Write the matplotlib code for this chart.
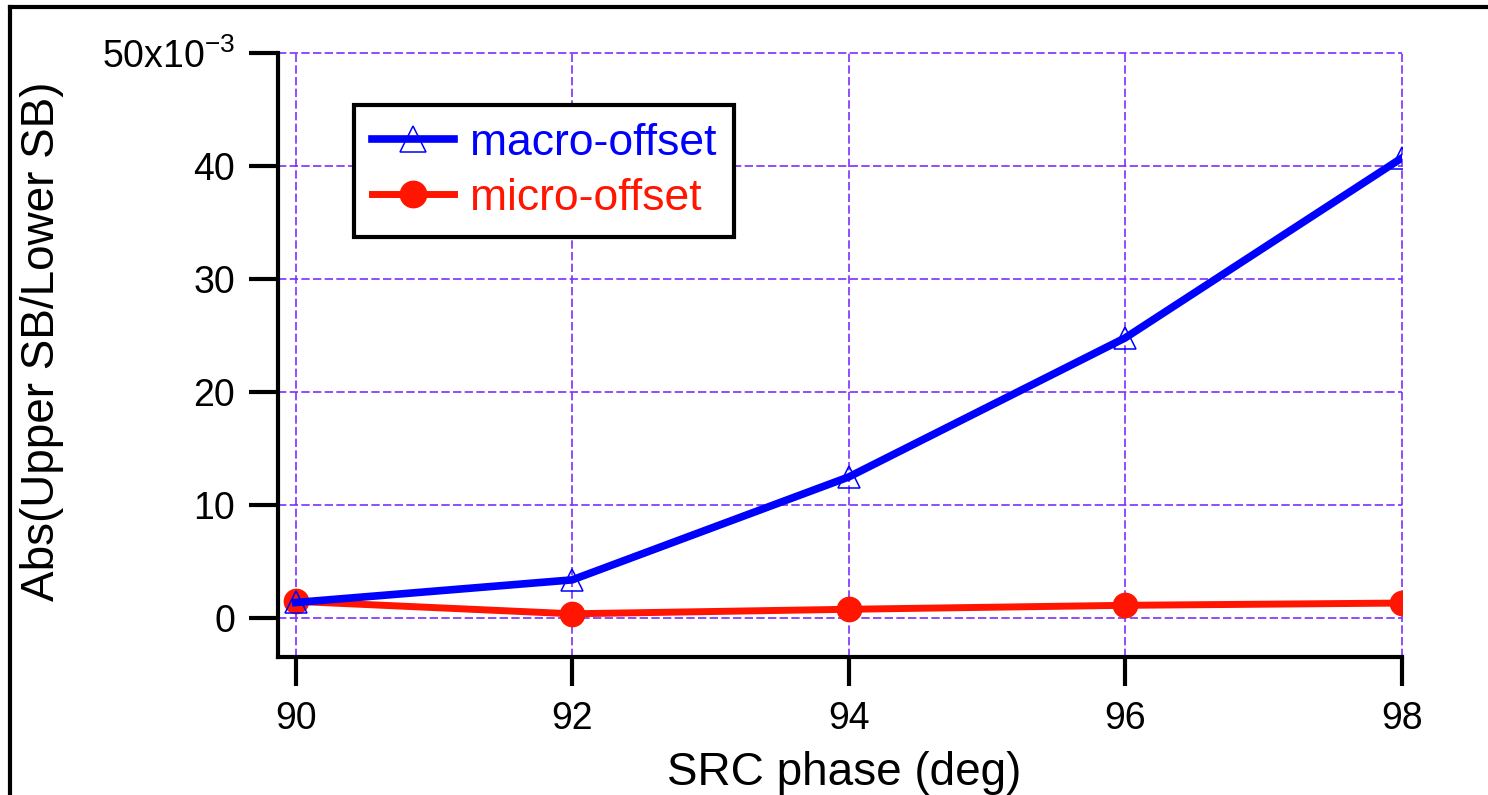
import matplotlib
matplotlib.use('Agg')
import matplotlib.pyplot as plt
from matplotlib.lines import Line2D

plt.rcParams['font.family'] = ['Liberation Sans', 'DejaVu Sans']
plt.rcParams['mathtext.fontset'] = 'custom'
plt.rcParams['mathtext.rm'] = 'Liberation Sans'
plt.rcParams['mathtext.default'] = 'regular'

# data (values in units of 1e-3)
phase = [90, 92, 94, 96, 98]
macro_offset = [1.4, 3.4, 12.5, 24.8, 40.7]
micro_offset = [1.5, 0.4, 0.8, 1.15, 1.35]

yticks = [0, 10, 20, 30, 40, 50]
ytick_labels = ['0', '10', '20', '30', '40', '50x10$^{-3}$']
xticks = [90, 92, 94, 96, 98]

grid_color = '#7b2fff'
blue = '#0000ff'
red = '#ff1500'

W, H = 1488, 795
fig = plt.figure(figsize=(W / 100, H / 100), dpi=100)
ax = fig.add_axes([278 / W, 1 - 657 / H, (1401.7 - 278) / W, (657 - 52.9) / H])

# red first so the blue trace sits on top
ax.plot(phase, micro_offset, color=red, lw=5, marker='o', ms=17.5,
        mfc=red, mec=red, label='micro-offset', zorder=3)
ax.plot(phase, macro_offset, color=blue, lw=5.5, marker='^', ms=16,
        mfc='none', mec=blue, mew=1.1, label='macro-offset', zorder=4)

ax.set_xlim(89.872, 98)
ax.set_ylim(-3.42, 50)
ax.set_xticks(xticks)
ax.set_yticks(yticks)
ax.set_yticklabels(ytick_labels)

ax.grid(True, color=grid_color, lw=1.2, linestyle=(0, (5, 2)), zorder=1)
for gl in ax.get_xgridlines() + ax.get_ygridlines():
    gl.set_clip_on(False)
for s in ['top', 'right']:
    ax.spines[s].set_visible(False)
for s in ['left', 'bottom']:
    ax.spines[s].set_linewidth(3)
ax.tick_params(direction='out', length=21, width=3, labelsize=27, color='black')
ax.tick_params(axis='y', pad=10)
ax.tick_params(axis='x', pad=11)

ax.set_xlabel('SRC phase (deg)', fontsize=33)
ax.set_ylabel('Abs(Upper SB/Lower SB)', fontsize=33)
ax.xaxis.set_label_coords(0.504, -0.155)
ax.yaxis.set_label_coords(-0.19, 0.522)

h, l = ax.get_legend_handles_labels()
leg = ax.legend(h[::-1], l[::-1], loc='upper left', bbox_to_anchor=(0.0676, 0.914),
                borderaxespad=0, fontsize=32, labelcolor='linecolor',
                fancybox=False, edgecolor='black', framealpha=1,
                handlelength=1.85, handletextpad=0.35, borderpad=0.4,
                labelspacing=0.32)
leg.get_frame().set_linewidth(3)
for hd in leg.legend_handles:
    hd.set_markersize(19)

# outer frame of the figure (left and top edges visible)
fig.add_artist(Line2D([10 / W, 10 / W], [0, 1 - 7 / H], color='black', lw=3,
                      transform=fig.transFigure))
fig.add_artist(Line2D([10 / W, 1], [1 - 7 / H, 1 - 7 / H], color='black', lw=3,
                      transform=fig.transFigure))

fig.savefig('out.png', dpi=100)
